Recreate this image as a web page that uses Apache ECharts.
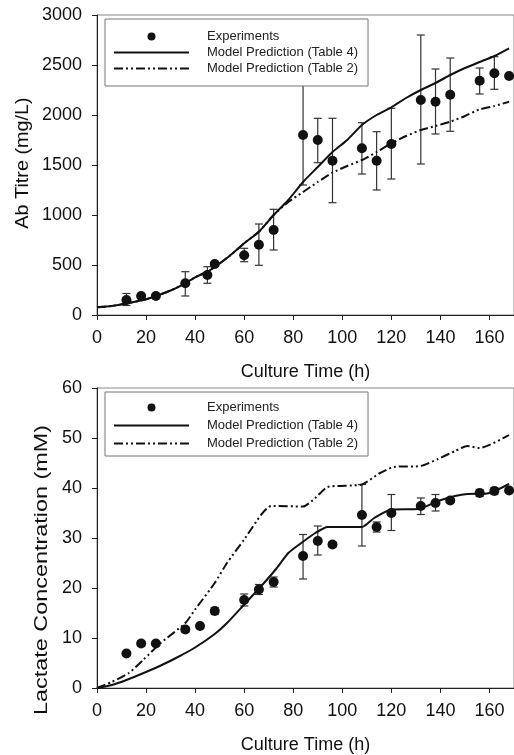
<!DOCTYPE html>
<html>
<head>
<meta charset="utf-8">
<script src="https://cdn.jsdelivr.net/npm/echarts@6.0.0/dist/echarts.min.js"></script>
<style>
  html, body { margin: 0; padding: 0; background: #fff; }
  #chart { width: 514px; height: 755px; }
</style>
</head>
<body>
<div id="chart"></div>
<script>
// --- data ---
const xTicks = [0, 20, 40, 60, 80, 100, 120, 140, 160];
const legendNames = ['Experiments', 'Model Prediction (Table 4)', 'Model Prediction (Table 2)'];

// Ab titre (mg/L)
const titreTime = [12, 18, 24, 36, 45, 48, 60, 66, 72, 84, 90, 96, 108, 114, 120, 132, 138, 144, 156, 162, 168];
const titreMean = [150, 190, 190, 317, 400, 510, 597, 703, 850, 1800, 1750, 1543, 1667, 1543, 1710, 2150, 2133, 2203, 2343, 2417, 2390];
const titreLow  = [95, 172, 175, 190, 317, 492, 533, 497, 650, 1300, 1523, 1123, 1410, 1250, 1360, 1510, 1810, 1837, 2210, 2257, null];
const titreHigh = [215, 208, 205, 433, 483, 528, 667, 910, 1057, 2300, 1967, 1967, 1923, 1833, 2067, 2800, 2460, 2570, 2470, 2583, null];
const titreModel4 = [[0, 77], [6, 90], [12, 115], [20, 157], [30, 245], [36, 317], [40, 377], [45, 433], [48, 480], [54, 590], [60, 717], [66, 833], [72, 1000], [78, 1150], [84, 1330], [90, 1480], [96, 1630], [102, 1750], [108, 1900], [114, 2000], [120, 2077], [126, 2170], [132, 2250], [138, 2320], [144, 2400], [150, 2470], [156, 2530], [162, 2590], [168, 2667]];
const titreModel2 = [[0, 77], [6, 90], [12, 115], [20, 157], [30, 245], [36, 317], [40, 377], [45, 433], [48, 480], [54, 590], [60, 717], [66, 833], [72, 1000], [78, 1130], [84, 1230], [90, 1330], [96, 1423], [102, 1490], [108, 1550], [114, 1630], [120, 1717], [126, 1790], [132, 1850], [138, 1890], [144, 1933], [150, 1990], [156, 2057], [162, 2090], [168, 2133]];

// Lactate (mM)
const lactTime = [12, 18, 24, 36, 42, 48, 60, 66, 72, 84, 90, 96, 108, 114, 120, 132, 138, 144, 156, 162, 168];
const lactMean = [6.9, 8.9, 8.9, 11.7, 12.4, 15.4, 17.6, 19.7, 21.2, 26.4, 29.4, 28.7, 34.6, 32.2, 35.0, 36.4, 37.0, 37.5, 39.0, 39.4, 39.5];
const lactLow  = [6.6, 8.4, 8.5, 11.1, 12.0, 14.7, 16.4, 18.7, 20.2, 21.8, 26.6, 28.2, 28.4, 31.2, 31.5, 34.7, 35.4, 37.1, 38.3, 38.7, null];
const lactHigh = [7.2, 9.4, 9.3, 12.3, 12.8, 16.1, 18.8, 20.7, 22.2, 30.7, 32.4, 29.2, 40.7, 33.2, 38.7, 38.0, 38.7, 37.9, 39.7, 40.1, null];
const lactModel4 = [[0, 0], [6, 0.6], [12, 1.6], [19, 3.0], [26, 4.5], [33, 6.2], [40, 8.1], [48, 10.8], [53, 13.0], [60, 16.7], [67, 20.4], [73, 23.8], [78, 27.0], [83, 28.9], [89, 31.0], [94, 32.2], [108, 32.2], [113, 34.0], [120, 35.7], [131, 35.8], [139, 37.4], [146, 38.4], [151, 38.8], [159, 38.9], [168, 40.8]];
const lactModel2 = [[0, 0], [6, 1.2], [13, 3.0], [19, 5.7], [26, 9.0], [36, 13.0], [40, 15.7], [48, 21.0], [53, 25.0], [60, 29.7], [67, 34.7], [71, 36.4], [84, 36.3], [89, 38.0], [94, 40.2], [108, 40.7], [115, 42.9], [121, 44.2], [132, 44.4], [139, 45.8], [146, 47.4], [151, 48.4], [156, 48.0], [168, 50.6]];

const FONT = '"Liberation Sans", Arial, sans-serif';
const INK = '#111';

const pairs = (xs, ys) => xs.map((x, i) => [x, ys[i]]);
const errRows = (xs, lo, hi) => xs.map((x, i) => [x, lo[i], hi[i]]).filter(r => r[1] != null);

const renderErrorBar = (params, api) => {
  const t = api.value(0);
  const top = api.coord([t, api.value(2)]);
  const bot = api.coord([t, api.value(1)]);
  const w = 4;
  const style = { stroke: '#333', lineWidth: 1.2 };
  return {
    type: 'group',
    children: [
      { type: 'line', shape: { x1: top[0], y1: top[1], x2: bot[0], y2: bot[1] }, style },
      { type: 'line', shape: { x1: top[0] - w, y1: top[1], x2: top[0] + w, y2: top[1] }, style },
      { type: 'line', shape: { x1: bot[0] - w, y1: bot[1], x2: bot[0] + w, y2: bot[1] }, style }
    ]
  };
};

const makeXAxis = (gridIndex) => ({
  type: 'value',
  gridIndex,
  min: 0,
  max: 170,
  interval: 20,
  name: 'Culture Time (h)',
  nameLocation: 'middle',
  nameGap: 48,
  nameTextStyle: { fontSize: 18, color: INK, fontFamily: FONT },
  axisLine: { show: true, onZero: false, lineStyle: { color: '#222', width: 1 } },
  axisTick: { show: true, length: 5, lineStyle: { color: '#222' } },
  axisLabel: { fontSize: 18, color: INK, fontFamily: FONT, margin: 14, showMaxLabel: false },
  splitLine: { show: false }
});

const makeYAxis = (gridIndex, max, interval) => ({
  type: 'value',
  gridIndex,
  min: 0,
  max,
  interval,
  axisLine: { show: true, onZero: false, lineStyle: { color: '#222', width: 1 } },
  axisTick: { show: true, length: 5, lineStyle: { color: '#222' } },
  axisLabel: { fontSize: 18, color: INK, fontFamily: FONT, margin: 15, formatter: v => String(v) },
  splitLine: { show: false }
});

// line entries hide the dot ECharts puts in the middle of a line legend icon
const legendData = [
  { name: legendNames[0] },
  { name: legendNames[1], itemStyle: { color: 'rgba(0,0,0,0)', borderWidth: 0 } },
  { name: legendNames[2], itemStyle: { color: 'rgba(0,0,0,0)', borderWidth: 0 } }
];

const makeLegend = (top, gap, padding) => ({
  data: legendData,
  orient: 'vertical',
  left: 105,
  top,
  itemWidth: 75,
  itemHeight: 8,
  itemGap: gap,
  padding,
  backgroundColor: '#fff',
  borderColor: '#777',
  borderWidth: 1,
  selectedMode: false,
  z: 10,
  textStyle: { fontSize: 13, color: '#222', fontFamily: FONT, padding: [0, 0, 0, 13] }
});

const dashDotDot = [9, 3, 2, 3, 2, 3];

const makeSeries = (idx, time, mean, lo, hi, m4, m2) => [
  {
    name: 'err' + idx,
    type: 'custom',
    xAxisIndex: idx,
    yAxisIndex: idx,
    renderItem: renderErrorBar,
    encode: { x: 0, y: [1, 2] },
    data: errRows(time, lo, hi),
    z: 2
  },
  {
    name: legendNames[1],
    type: 'line',
    xAxisIndex: idx,
    yAxisIndex: idx,
    data: m4,
    symbol: 'none',
    smooth: 0.2,
    lineStyle: { color: INK, width: 2 },
    itemStyle: { color: INK },
    z: 3
  },
  {
    name: legendNames[2],
    type: 'line',
    xAxisIndex: idx,
    yAxisIndex: idx,
    data: m2,
    symbol: 'none',
    smooth: 0.2,
    lineStyle: { color: INK, width: 2, type: dashDotDot },
    itemStyle: { color: INK },
    z: 3
  },
  {
    name: legendNames[0],
    type: 'scatter',
    xAxisIndex: idx,
    yAxisIndex: idx,
    data: pairs(time, mean),
    symbol: 'circle',
    symbolSize: 10,
    itemStyle: { color: INK, opacity: 1 },
    z: 4
  }
];

const chart = echarts.init(document.getElementById('chart'), null, { renderer: 'canvas' });

const option = {
  backgroundColor: '#fff',
  animation: false,
  textStyle: { fontFamily: FONT },
  grid: [
    { left: 97, top: 15, width: 419, height: 300, show: true, borderColor: '#888', borderWidth: 1, backgroundColor: 'transparent' },
    { left: 97, top: 388, width: 419, height: 301, show: true, borderColor: '#888', borderWidth: 1, backgroundColor: 'transparent' }
  ],
  xAxis: [makeXAxis(0), makeXAxis(1)],
  yAxis: [makeYAxis(0, 3000, 500), makeYAxis(1, 60, 10)],
  legend: [
    makeLegend(19, 3, [11, 10, 11, 8]),
    makeLegend(392, 5, [9, 10, 6, 8])
  ],
  graphic: [
    {
      type: 'text', x: 23, y: 163, rotation: Math.PI / 2, scaleX: 1.1,
      style: { text: 'Ab Titre (mg/L)', fontSize: 18, fontFamily: FONT, fill: INK, align: 'center', verticalAlign: 'middle' }
    },
    {
      type: 'text', x: 42, y: 570, rotation: Math.PI / 2, scaleX: 1.3,
      style: { text: 'Lactate Concentration (mM)', fontSize: 18, fontFamily: FONT, fill: INK, align: 'center', verticalAlign: 'middle' }
    }
  ],
  series: [
    ...makeSeries(0, titreTime, titreMean, titreLow, titreHigh, titreModel4, titreModel2),
    ...makeSeries(1, lactTime, lactMean, lactLow, lactHigh, lactModel4, lactModel2)
  ]
};

chart.setOption(option);
</script>
</body>
</html>
